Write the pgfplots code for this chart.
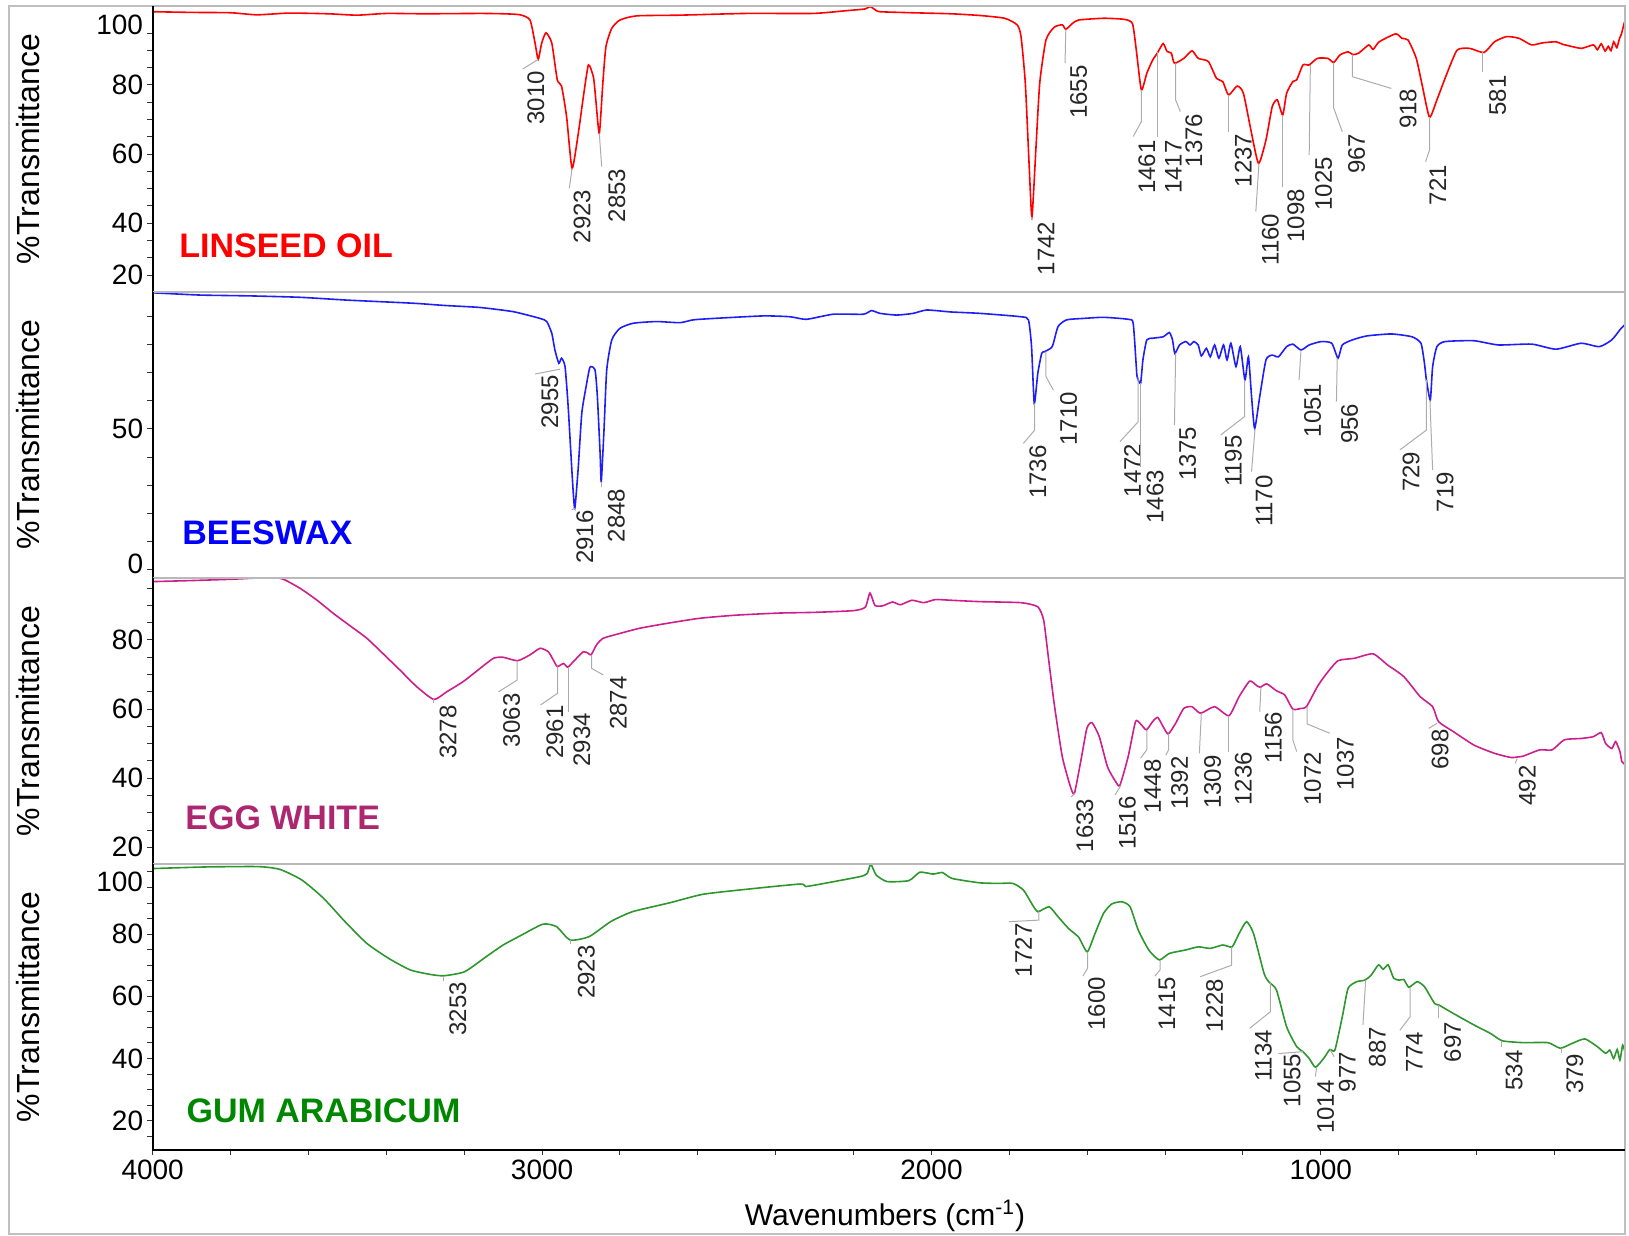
\documentclass[border=0pt]{standalone}
\usepackage{fontspec}
\setmainfont{Liberation Sans}
\usepackage{pgfplots}
\pgfplotsset{compat=1.18}
\definecolor{linc}{RGB}{255,0,0}
\definecolor{beec}{RGB}{30,30,245}
\definecolor{beel}{RGB}{0,0,255}
\definecolor{eggc}{RGB}{205,30,140}
\definecolor{eggl}{RGB}{172,38,112}
\definecolor{gumc}{RGB}{45,150,45}
\definecolor{guml}{RGB}{0,135,0}
\pgfplotsset{
 panel/.style={
  scale only axis, width=736.15pt, height=143pt,
  x dir=reverse, xmin=219, xmax=4000,
  axis line style={draw=none},
  tick align=outside,
  ytick pos=left, xtick pos=bottom,
  major tick length=0pt, minor tick length=2.6pt,
  every tick/.style={black!80, line width=0.5pt},
  yticklabel style={font=\fontsize{14}{16}\selectfont, anchor=east, inner sep=0pt, xshift=-4.6pt},
  ylabel={\%Transmittance},
  ylabel style={at={(axis description cs:-0.0847,0.5)}, anchor=center, font=\fontsize{16}{18}\selectfont},
  clip mode=individual,
  xtick=\empty,
 },
 spec/.style={line width=0.8pt, smooth, tension=0.35},
}
\tikzset{
 ld/.style={draw=gray!65, line width=0.5pt},
 pl/.style={rotate=90, anchor=east, inner sep=0pt, font=\fontsize{12}{14}\selectfont, text=black!85},
 nm/.style={anchor=base west, inner sep=0pt, font=\fontsize{17}{20}\selectfont\bfseries},
}
\newcommand{\frm}{%
 \draw[gray!55, line width=0.7pt] (rel axis cs:0,1) -- (rel axis cs:1,1) -- (rel axis cs:1,0) -- (rel axis cs:0,0);
 \draw[black, line width=0.9pt] (rel axis cs:0,0) -- (rel axis cs:0,1);}
\begin{document}
\begin{tikzpicture}
\useasboundingbox (0,0) rectangle (814.5pt,-618pt);
\draw[gray!50, line width=0.6pt] (4.5pt,-3pt) rectangle (812.5pt,-617pt);
% ---------------- LINSEED OIL
\begin{axis}[panel, at={(76.35pt,-3pt)}, anchor=north west, ymin=20.12, ymax=102.85,
 ytick={25.04,40,60.04,80,97.36}, yticklabels={20,40,60,80,100}, minor ytick={25,30,...,95}]
\addplot[linc, spec] coordinates {
(4000,101.2) (3900,101.0) (3800,100.9) (3732,100.3) (3650,100.8) (3550,100.6) (3475,100.2) (3400,100.7) (3300,100.6) (3160,100.7) (3100,100.6) (3056,100.3) (3031,98.8) (3018,92.1) (3010,87.4) (3001,92.1) (2990,95.1) (2975,92.1) (2961,81.5) (2950,79.7) (2937,70.8) (2923,55.9) (2907,66) (2894,76.6) (2881,85.8) (2868,82.2) (2862,75.7) (2853,66) (2844,80.5) (2836,91.1) (2821,96.4) (2800,98.8) (2757,100) (2646,100.2) (2475,100.7) (2304,100.7) (2218,101.5) (2170,102) (2158,102.7) (2145,101.8) (2132,101.2) (2050,100.9) (1950,100.6) (1875,100.1) (1812,99.3) (1780,97.4) (1770,94) (1759,80.5) (1749,56.4) (1742,41.9) (1732,61.2) (1722,80.5) (1706,93) (1685,96.7) (1664,97.4) (1655,96.1) (1638,97.8) (1622,98.8) (1558,99.3) (1506,99) (1484,97.8) (1474,90.1) (1461,78.6) (1447,83.4) (1432,87.2) (1419,89.4) (1405,92) (1395,89.7) (1384,89.2) (1376,86.3) (1352,87.7) (1331,89.9) (1315,87.7) (1289,86.8) (1268,81.9) (1252,81) (1237,77.1) (1215,79.7) (1199,77.6) (1178,66) (1160,57.3) (1141,64.1) (1125,73.7) (1112,75.7) (1098,71.3) (1088,77.6) (1072,81) (1062,81.5) (1046,85.8) (1030,85.8) (1009,87.7) (982,87.7) (967,86.5) (951,88.7) (930,89.6) (918,88.8) (903,89.2) (877,91.6) (866,90.3) (850,92.5) (808,94.8) (792,93.5) (776,93) (755,87.7) (739,79.5) (721,70.7) (702,75.7) (676,83.4) (650,90.1) (618,90.6) (581,89.4) (554,92.5) (523,94) (491,93.5) (459,91.6) (430,92.2) (396,92.5) (380,91.8) (354,91.1) (330,90.6) (300,91.6) (290,90.2) (280,91.9) (270,89.8) (262,91.2) (255,89.9) (248,92.5) (240,90.8) (233,93.5) (228,94.8) (222,97.5) (219,98.5)};
\frm
\node[nm, text=linc] at (axis cs:3932.5,29.96) {LINSEED OIL};
\draw[ld] (axis cs:3010,87.4) -- (axis cs:3050,84.6); \node[pl] at (axis cs:3016,84.1) {3010};
\draw[ld] (axis cs:2923,55.9) -- (axis cs:2930,50.1); \node[pl] at (axis cs:2897,49.8) {2923};
\draw[ld] (axis cs:2853,66) -- (axis cs:2847,56.4); \node[pl] at (axis cs:2808,55.9) {2853};
\draw[ld] (axis cs:1742,41.9) -- (axis cs:1742,41); \node[pl] at (axis cs:1706,40.5) {1742};
\draw[ld] (axis cs:1655,96.1) -- (axis cs:1657,86.3); \node[pl] at (axis cs:1622,85.8) {1655};
\draw[ld] (axis cs:1461,78.6) -- (axis cs:1461,69.4) -- (axis cs:1482,65.1); \node[pl] at (axis cs:1447,64.1) {1461};
\draw[ld] (axis cs:1419,89.4) -- (axis cs:1419,65.1); \node[pl] at (axis cs:1379,64.1) {1417};
\draw[ld] (axis cs:1373,86.3) -- (axis cs:1373,75.7) -- (axis cs:1361,72.3); \node[pl] at (axis cs:1326,71.8) {1376};
\draw[ld] (axis cs:1236,77.1) -- (axis cs:1236,66.5); \node[pl] at (axis cs:1199,66) {1237};
\draw[ld] (axis cs:1159,57.3) -- (axis cs:1167,43.4); \node[pl] at (axis cs:1130,42.9) {1160};
\draw[ld] (axis cs:1099,71.3) -- (axis cs:1099,50.6); \node[pl] at (axis cs:1064,50) {1098};
\draw[ld] (axis cs:1027,85.8) -- (axis cs:1030,59.8); \node[pl] at (axis cs:993,59.3) {1025};
\draw[ld] (axis cs:967,86.5) -- (axis cs:967,73.3) -- (axis cs:945,66.5); \node[pl] at (axis cs:908,66) {967};
\draw[ld] (axis cs:919,88.8) -- (axis cs:919,82.4) -- (axis cs:819,79); \node[pl] at (axis cs:776,79) {918};
\draw[ld] (axis cs:721,70.7) -- (axis cs:721,61.2) -- (axis cs:731,57.8); \node[pl] at (axis cs:700,56.9) {721};
\draw[ld] (axis cs:584,89.4) -- (axis cs:584,83.9); \node[pl] at (axis cs:546,82.9) {581};
\end{axis}
% ---------------- BEESWAX
\begin{axis}[panel, at={(76.35pt,-146pt)}, anchor=north west, ymin=-2.84, ymax=98.58,
 ytick={2.13,50}, yticklabels={0,50}, minor ytick={0,10,...,90}]
\addplot[beec, spec] coordinates {
(4000,98.3) (3879,97.5) (3750,97.2) (3621,96.7) (3500,95.7) (3331,94.6) (3250,93.8) (3160,93.1) (3074,91.6) (3005,89.2) (2988,88.1) (2975,83.9) (2967,78) (2957,73.3) (2950,75.1) (2941,72.1) (2933,57.9) (2922,31.9) (2916,21.9) (2907,36.6) (2898,55.6) (2887,65) (2877,71.9) (2864,70.9) (2858,61.5) (2851,41.4) (2848,31.3) (2841,49.6) (2834,70.9) (2821,81.6) (2800,85.7) (2766,87.5) (2706,88.1) (2646,87.7) (2612,88.7) (2560,89.2) (2432,90.1) (2363,89.8) (2321,88.9) (2252,90.7) (2175,90.7) (2154,92) (2132,91) (2089,90.4) (2047,91) (2012,92.2) (1950,91.5) (1875,91) (1770,89.8) (1751,88.7) (1743,79.2) (1736,59.1) (1727,69.7) (1717,76.8) (1710,77.4) (1690,79.2) (1675,86.3) (1653,88.7) (1611,89.2) (1558,89.6) (1495,88.9) (1482,87.5) (1474,72.1) (1472,68.6) (1463,66.2) (1457,74.5) (1447,81.6) (1431,82.2) (1405,82.7) (1389,84.2) (1381,81.6) (1375,76.8) (1363,79.8) (1347,81) (1336,79.8) (1326,81) (1315,79.8) (1307,75.9) (1294,78.6) (1284,75.6) (1273,79.8) (1262,75.1) (1250,79.8) (1241,74.5) (1231,80.4) (1218,72.1) (1207,79.2) (1195,67.4) (1186,75.6) (1178,61.5) (1170,50.2) (1157,61.5) (1141,74.5) (1125,76.2) (1109,75.6) (1088,79.2) (1072,80.1) (1051,78) (1030,79.8) (999,81) (972,80.4) (956,75.1) (945,79.8) (919,81.6) (882,83) (819,83.7) (766,82.7) (743,80.4) (734,73.3) (729,67.4) (719,60.3) (713,72.1) (702,79.2) (681,81) (607,81.3) (544,79.8) (459,80.1) (396,78.3) (332,80.4) (285,79.2) (253,81.6) (229,85.7) (219,87)};
\frm
\node[nm, text=beel] at (axis cs:3925,8.87) {BEESWAX};
\draw[ld] (axis cs:2954,71.2) -- (axis cs:3018,69.5); \node[pl] at (axis cs:2980,69.2) {2955};
\draw[ld] (axis cs:2916,21.9) -- (axis cs:2924,21.3); \node[pl] at (axis cs:2890,21.3) {2916};
\draw[ld] (axis cs:2848,31.3) -- (axis cs:2848,29.5); \node[pl] at (axis cs:2809,28.9) {2848};
\draw[ld] (axis cs:1735,59.1) -- (axis cs:1735,49.6) -- (axis cs:1764,44.9); \node[pl] at (axis cs:1727,44.3) {1736};
\draw[ld] (axis cs:1706,77.4) -- (axis cs:1706,68.6) -- (axis cs:1687,63.8); \node[pl] at (axis cs:1648,63.2) {1710};
\draw[ld] (axis cs:1469,68.6) -- (axis cs:1469,52.6) -- (axis cs:1516,45.5); \node[pl] at (axis cs:1484,44.9) {1472};
\draw[ld] (axis cs:1463,66.2) -- (axis cs:1463,36.6); \node[pl] at (axis cs:1426,35.5) {1463};
\draw[ld] (axis cs:1373,76.8) -- (axis cs:1376,51.4); \node[pl] at (axis cs:1342,50.8) {1375};
\draw[ld] (axis cs:1196,67.4) -- (axis cs:1196,54.4) -- (axis cs:1257,47.9); \node[pl] at (axis cs:1225,47.9) {1195};
\draw[ld] (axis cs:1169,50.2) -- (axis cs:1178,34.9); \node[pl] at (axis cs:1146,33.7) {1170};
\draw[ld] (axis cs:1051,78) -- (axis cs:1056,67.4); \node[pl] at (axis cs:1021,66.2) {1051};
\draw[ld] (axis cs:958,75.1) -- (axis cs:960,59.7); \node[pl] at (axis cs:926,59.1) {956};
\draw[ld] (axis cs:729,67.4) -- (axis cs:729,49.6) -- (axis cs:797,42.6); \node[pl] at (axis cs:768,42) {729};
\draw[ld] (axis cs:720,60.3) -- (axis cs:713,35.5); \node[pl] at (axis cs:681,34.9) {719};
\end{axis}
% ---------------- EGG WHITE
\begin{axis}[panel, at={(76.35pt,-289pt)}, anchor=north west, ymin=15.17, ymax=97.94,
 ytick={20,40,60,80}, yticklabels={20,40,60,80}, minor ytick={20,25,...,95}]
\addplot[eggc, spec] coordinates {
(4000,96.9) (3900,97.2) (3793,97.6) (3699,98.1) (3665,97.6) (3622,95) (3579,91.6) (3536,87.7) (3493,84.1) (3450,80.5) (3408,76) (3365,71.3) (3322,66.5) (3278,62.8) (3245,65) (3202,68) (3159,71.8) (3125,74.7) (3100,75) (3063,74) (3031,75.7) (3005,77.6) (2984,76.6) (2971,74.2) (2961,72.3) (2945,73.2) (2934,72.1) (2920,73.7) (2894,76.6) (2881,76.1) (2874,75.7) (2860,78.6) (2843,80.5) (2800,81.9) (2749,83.4) (2680,84.8) (2594,86.3) (2500,87.2) (2390,87.8) (2300,88) (2200,88.5) (2170,89.5) (2158,93.6) (2145,90) (2125,89.9) (2100,91) (2080,90.2) (2050,91.5) (2020,90.8) (1990,91.7) (1950,91.5) (1875,91.1) (1770,90.8) (1727,89.6) (1712,85.8) (1701,76.1) (1685,61.7) (1664,46.2) (1643,37.5) (1633,35.6) (1616,45.3) (1601,54.4) (1588,56.1) (1569,52) (1548,43.3) (1527,39) (1516,38) (1495,46.2) (1476,56.4) (1463,55.7) (1448,54) (1432,56.4) (1419,57.6) (1405,54.9) (1392,52.8) (1373,55.9) (1352,60.2) (1331,60.7) (1309,58.8) (1273,60.7) (1236,58.1) (1210,63.6) (1183,68.1) (1167,67) (1156,66.3) (1139,67.3) (1114,65.3) (1093,64.1) (1072,60) (1051,60.2) (1037,60.7) (1009,66.5) (988,69.9) (956,74) (914,74.7) (866,76) (829,72.8) (787,69.4) (745,63.6) (713,60.7) (698,56.4) (660,53.5) (607,49.6) (554,47.2) (512,46) (492,46.2) (480,46.4) (438,48.2) (406,48.2) (375,51.1) (332,51.5) (301,52) (280,53.2) (269,50.1) (253,48.6) (243,50.6) (232,47.7) (227,44.8) (219,44)};
\frm
\node[nm, text=eggl] at (axis cs:3917,25.3) {EGG WHITE};
\draw[ld] (axis cs:3279,62.8) -- (axis cs:3279,61.7); \node[pl] at (axis cs:3241,61.2) {3278};
\draw[ld] (axis cs:3064,74) -- (axis cs:3064,68.4) -- (axis cs:3112,65); \node[pl] at (axis cs:3078,64.6) {3063};
\draw[ld] (axis cs:2960,72.3) -- (axis cs:2960,64.6) -- (axis cs:3004,61.2); \node[pl] at (axis cs:2967,61.2) {2961};
\draw[ld] (axis cs:2933,72.1) -- (axis cs:2933,59.3); \node[pl] at (axis cs:2898,59) {2934};
\draw[ld] (axis cs:2873,75.7) -- (axis cs:2873,71.8) -- (axis cs:2843,69.9); \node[pl] at (axis cs:2804,69.6) {2874};
\draw[ld] (axis cs:1632,35.6) -- (axis cs:1641,34.6); \node[pl] at (axis cs:1606,34.2) {1633};
\draw[ld] (axis cs:1513,38) -- (axis cs:1529,35.1); \node[pl] at (axis cs:1497,34.8) {1516};
\draw[ld] (axis cs:1447,54) -- (axis cs:1447,48.2) -- (axis cs:1463,45.8); \node[pl] at (axis cs:1432,45.5) {1448};
\draw[ld] (axis cs:1391,52.8) -- (axis cs:1391,48.2) -- (axis cs:1398,46.7); \node[pl] at (axis cs:1363,46.4) {1392};
\draw[ld] (axis cs:1307,58.8) -- (axis cs:1312,47.2); \node[pl] at (axis cs:1278,46.7) {1309};
\draw[ld] (axis cs:1236,58.1) -- (axis cs:1236,47.7); \node[pl] at (axis cs:1199,47.7) {1236};
\draw[ld] (axis cs:1154,66.3) -- (axis cs:1157,59.3); \node[pl] at (axis cs:1122,59.3) {1156};
\draw[ld] (axis cs:1072,60) -- (axis cs:1072,51.1) -- (axis cs:1062,47.7); \node[pl] at (axis cs:1021,47.7) {1072};
\draw[ld] (axis cs:1035,60.7) -- (axis cs:1035,55.7) -- (axis cs:977,53); \node[pl] at (axis cs:937,52) {1037};
\draw[ld] (axis cs:702,55.9) -- (axis cs:723,54.4); \node[pl] at (axis cs:694,54.2) {698};
\draw[ld] (axis cs:496,45.7) -- (axis cs:501,44.3); \node[pl] at (axis cs:470,43.8) {492};
\end{axis}
% ---------------- GUM ARABICUM
\begin{axis}[panel, at={(76.35pt,-432pt)}, anchor=north west, ymin=10.58, ymax=102.54,
 ytick={20,40,60,80,96.66}, yticklabels={20,40,60,80,100}, minor ytick={15,20,...,100},
 xtick={4000,3000,2000,1000}, xticklabels={4000,3000,2000,1000},
 minor xtick={400,600,...,4000},
 xticklabel style={font=\fontsize{14}{16}\selectfont, anchor=north, inner sep=0pt, yshift=-5pt},
 xlabel={Wavenumbers (cm\textsuperscript{-1})},
 xlabel style={at={(axis description cs:0.4974,-0.2308)}, anchor=center, font=\fontsize{15}{18}\selectfont}]
\addplot[gumc, spec] coordinates {
(4000,101) (3993,101.1) (3860,101.6) (3728,101.7) (3673,100.8) (3617,97.4) (3561,91.5) (3506,84) (3450,77) (3394,72.2) (3339,68.5) (3290,67.1) (3253,66.6) (3199,67.9) (3144,72.7) (3100,76.5) (3060,79.2) (2998,83.2) (2963,82.4) (2928,78.1) (2879,79.2) (2824,84) (2768,87.2) (2671,90.1) (2587,92.8) (2476,94.4) (2337,96.1) (2323,95.3) (2267,96.5) (2183,98.5) (2165,99.5) (2156,102.5) (2142,99) (2114,96.9) (2058,97.2) (2030,99.9) (1996,99.3) (1972,99.8) (1947,97.9) (1877,96.5) (1829,96.3) (1791,96.3) (1764,94.2) (1743,89.9) (1727,87.2) (1698,88.8) (1675,85.6) (1648,81.8) (1622,79) (1600,74.3) (1580,80.2) (1558,86.7) (1537,89.7) (1511,90.4) (1490,88.8) (1469,81.3) (1442,74.9) (1415,71.7) (1389,73.8) (1347,74.9) (1315,75.9) (1284,75.4) (1252,76.5) (1228,75.9) (1210,80.2) (1191,84) (1173,80.2) (1146,67.4) (1134,64.7) (1114,62) (1088,50.2) (1062,43.8) (1046,42.2) (1030,40) (1014,37.2) (993,40) (977,42.9) (964,42.7) (945,53.4) (930,62.6) (908,64.7) (887,65.2) (871,66.8) (852,70.1) (840,68.7) (827,70.1) (813,65.8) (798,65.2) (787,65.4) (774,62.9) (753,64.7) (734,63.1) (708,57.7) (697,57.2) (660,54.5) (607,50.8) (565,48.1) (534,45.7) (480,45.1) (417,45.1) (385,43.3) (354,44.9) (322,46.3) (290,43.8) (269,41.7) (258,42.7) (248,40) (239,42.9) (232,39.5) (225,44.3) (219,42)};
\draw[gray!55, line width=0.7pt] (rel axis cs:0,1) -- (rel axis cs:1,1) -- (rel axis cs:1,0);
\draw[black, line width=0.9pt] (rel axis cs:0,1) -- (rel axis cs:0,0) -- (rel axis cs:1,0);
\node[nm, text=guml] at (axis cs:3914,19.58) {GUM ARABICUM};
\draw[ld] (axis cs:3253,66.6) -- (axis cs:3253,64.9); \node[pl] at (axis cs:3216,64.7) {3253};
\draw[ld] (axis cs:2928,78.1) -- (axis cs:2928,76.8); \node[pl] at (axis cs:2886,76.5) {2923};
\draw[ld] (axis cs:1724,87.2) -- (axis cs:1724,84.5) -- (axis cs:1801,84); \node[pl] at (axis cs:1764,83.5) {1727};
\draw[ld] (axis cs:1599,74.3) -- (axis cs:1599,69) -- (axis cs:1611,66.5); \node[pl] at (axis cs:1576,66.3) {1600};
\draw[ld] (axis cs:1413,71.7) -- (axis cs:1413,68.5) -- (axis cs:1426,66.5); \node[pl] at (axis cs:1395,66.3) {1415};
\draw[ld] (axis cs:1229,75.9) -- (axis cs:1229,70) -- (axis cs:1310,66.3); \node[pl] at (axis cs:1273,65.8) {1228};
\draw[ld] (axis cs:1130,64.7) -- (axis cs:1130,55) -- (axis cs:1183,49.7); \node[pl] at (axis cs:1148,49.2) {1134};
\draw[ld] (axis cs:1046,42.2) -- (axis cs:1109,41.6); \node[pl] at (axis cs:1074,41.6) {1055};
\draw[ld] (axis cs:1011,37.2) -- (axis cs:1014,34.2); \node[pl] at (axis cs:988,33.1) {1014};
\draw[ld] (axis cs:977,42.9) -- (axis cs:966,40.6); \node[pl] at (axis cs:932,42.2) {977};
\draw[ld] (axis cs:885,65.2) -- (axis cs:892,50.8); \node[pl] at (axis cs:855,50.2) {887};
\draw[ld] (axis cs:771,62.9) -- (axis cs:771,53.4) -- (axis cs:797,49.1); \node[pl] at (axis cs:760,48.6) {774};
\draw[ld] (axis cs:697,57.2) -- (axis cs:697,52.9); \node[pl] at (axis cs:662,51.8) {697};
\draw[ld] (axis cs:535,45.7) -- (axis cs:535,43.6); \node[pl] at (axis cs:504,42.7) {534};
\draw[ld] (axis cs:382,43.3) -- (axis cs:382,41.9); \node[pl] at (axis cs:348,41.6) {379};
\end{axis}
\end{tikzpicture}
\end{document}
